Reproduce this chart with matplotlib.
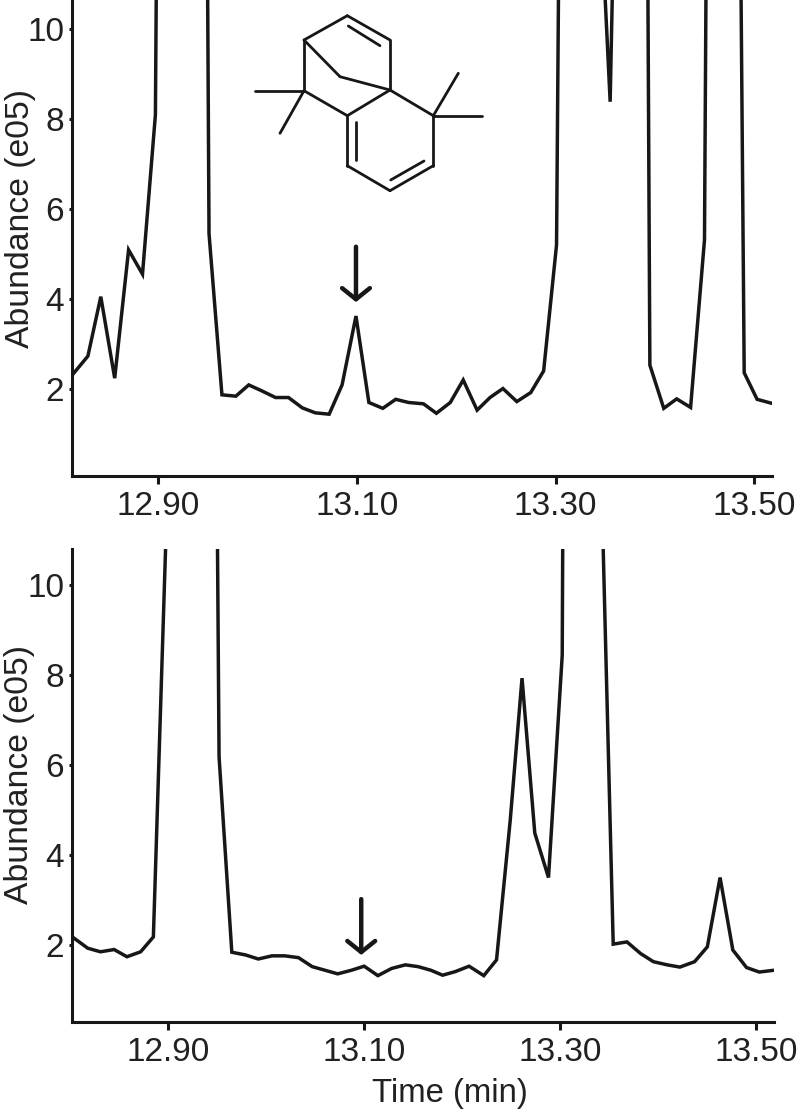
import matplotlib
matplotlib.use("Agg")
import matplotlib.pyplot as plt

plt.rcParams['font.family'] = ['Liberation Sans', 'DejaVu Sans']

# top trace (off-scale values are estimates from the slope of the lines)
time_top = [12.814, 12.829, 12.842, 12.856, 12.870, 12.884, 12.897, 12.911, 12.924, 12.937,
            12.951, 12.964, 12.978, 12.991, 13.004, 13.018, 13.031, 13.045, 13.058, 13.072,
            13.085, 13.099, 13.112, 13.126, 13.139, 13.152, 13.167, 13.180, 13.194, 13.207,
            13.221, 13.234, 13.247, 13.261, 13.275, 13.288, 13.301, 13.315, 13.328, 13.342,
            13.355, 13.369, 13.382, 13.395, 13.409, 13.422, 13.436, 13.450, 13.463, 13.476,
            13.490, 13.503, 13.518]
abund_top = [2.33, 2.73, 4.05, 2.24, 5.09, 4.55, 8.09, 52.0, 75.0, 59.0,
             5.45, 1.87, 1.84, 2.09, 1.96, 1.81, 1.81, 1.58, 1.47, 1.44,
             2.09, 3.62, 1.70, 1.57, 1.77, 1.70, 1.67, 1.46, 1.70, 2.20,
             1.53, 1.81, 2.01, 1.72, 1.92, 2.40, 5.20, 45.0, 70.0, 14.3,
             8.38, 23.7, 57.0, 2.53, 1.57, 1.78, 1.59, 5.31, 52.9, 39.5,
             2.36, 1.77, 1.68]

# bottom trace
time_bot = [12.803, 12.818, 12.831, 12.845, 12.858, 12.872, 12.885, 12.898, 12.912, 12.925,
            12.938, 12.952, 12.965, 12.979, 12.992, 13.006, 13.019, 13.033, 13.047, 13.060,
            13.073, 13.087, 13.100, 13.114, 13.128, 13.142, 13.155, 13.168, 13.180, 13.193,
            13.207, 13.222, 13.235, 13.249, 13.261, 13.274, 13.288, 13.302, 13.315, 13.328,
            13.341, 13.354, 13.368, 13.382, 13.395, 13.409, 13.422, 13.437, 13.450, 13.463,
            13.476, 13.490, 13.503, 13.518]
abund_bot = [2.17, 1.93, 1.85, 1.90, 1.74, 1.85, 2.18, 11.2, 50.0, 60.0,
             46.8, 6.18, 1.84, 1.78, 1.69, 1.76, 1.76, 1.72, 1.52, 1.44,
             1.36, 1.44, 1.53, 1.32, 1.48, 1.56, 1.52, 1.44, 1.33, 1.41,
             1.53, 1.32, 1.67, 4.78, 7.93, 4.49, 3.50, 8.44, 71.0, 50.0,
             13.2, 2.02, 2.07, 1.81, 1.63, 1.56, 1.51, 1.63, 1.96, 3.50,
             1.89, 1.50, 1.40, 1.44]

time_ticks = [12.90, 13.10, 13.30, 13.50]
time_labels = ["12.90", "13.10", "13.30", "13.50"]
abund_ticks = [2, 4, 6, 8, 10]

# arrows: time, tail, tip
arrow_top = (13.099, 5.16, 3.93)
arrow_bot = (13.097, 3.02, 1.78)

# molecule, in image pixels
atoms = {
    "a": (304, 40), "b": (347.3, 15.7), "c": (390, 40), "d": (390, 90),
    "e": (340, 76.7), "f": (304, 90.7), "g": (347.3, 115.7), "h": (347.3, 165.7),
    "i": (390, 190.7), "j": (433.3, 165.7), "k": (433.3, 115.7),
    "m1": (255, 90.7), "m2": (280, 133.3), "m3": (458.3, 73.3), "m4": (482.3, 115.7),
}
bonds = ["ab", "bc", "cd", "ae", "ed", "af", "fg", "gd", "dk", "gh", "hi", "ij", "jk"]
methyls = [("f", "m1"), ("f", "m2"), ("k", "m3"), ("k", "m4")]
inner_bonds = [((348.3, 26), (380, 45.7)), ((356, 121.7), (356, 160)), ((390.7, 180), (424, 161))]

W, H = 800, 1114
INK = "#171717"
TEXT = "#212121"


def panel(fig, box, xlim, ylim, times, values, arrow, label_y):
    left, top, right, bottom = box
    ax = fig.add_axes([left / W, 1 - bottom / H, (right - left) / W, (bottom - top) / H])
    ax.plot(times, values, color=INK, lw=2.5, solid_joinstyle="miter")
    ax.set_xlim(xlim)
    ax.set_ylim(ylim)
    ax.set_xticks(time_ticks, time_labels)
    ax.set_yticks(abund_ticks)
    ax.tick_params(axis="x", length=6, width=2.2, color=INK, labelsize=24, labelcolor=TEXT, pad=5)
    ax.tick_params(axis="y", length=2.5, width=2.2, color=INK, labelsize=24, labelcolor=TEXT, pad=3)
    for side in ["top", "right"]:
        ax.spines[side].set_visible(False)
    for side in ["left", "bottom"]:
        ax.spines[side].set_linewidth(2.2)
        ax.spines[side].set_color(INK)
    ax.set_ylabel("Abundance (e05)", fontsize=24.3, color=TEXT)
    ax.yaxis.set_label_coords(-0.052, label_y)
    t, tail, tip = arrow
    ax.annotate("", xy=(t, tip), xytext=(t, tail),
                arrowprops=dict(arrowstyle="->,head_length=0.8,head_width=1.0", lw=3.2,
                                color=INK, shrinkA=0, shrinkB=0, mutation_scale=10))
    return ax


def draw_molecule(fig):
    ax = fig.add_axes([0, 0, 1, 1])
    ax.set_xlim(0, W)
    ax.set_ylim(H, 0)
    ax.axis("off")
    pairs = [(atoms[b[0]], atoms[b[1]]) for b in bonds]
    pairs += [(atoms[p], atoms[q]) for p, q in methyls]
    pairs += inner_bonds
    for p, q in pairs:
        ax.plot([p[0], q[0]], [p[1], q[1]], color=INK, lw=2.0, solid_capstyle="round")


def main():
    fig = plt.figure(figsize=(W / 100, H / 100), dpi=100)
    panel(fig, (72, 0, 772, 476), (12.813, 13.518), (0.067, 10.64), time_top, abund_top, arrow_top, 0.542)
    ax = panel(fig, (72, 549, 774, 1022), (12.802, 13.518), (0.29, 10.8), time_bot, abund_bot, arrow_bot, 0.524)
    ax.set_xlabel("Time (min)", fontsize=23.7, color=TEXT)
    ax.xaxis.set_label_coords(0.538, -0.118)
    draw_molecule(fig)
    fig.savefig("out.png", dpi=100, facecolor="white")


if __name__ == "__main__":
    main()
